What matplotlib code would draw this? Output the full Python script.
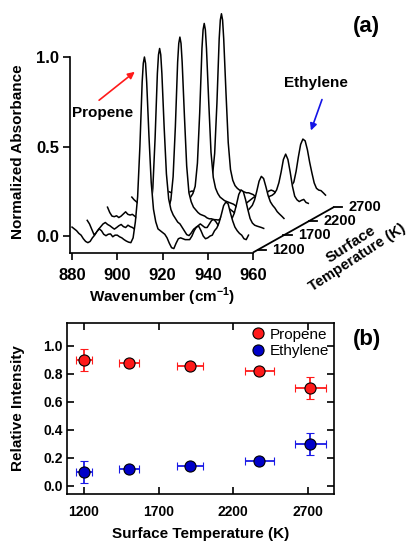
import matplotlib

matplotlib.use("Agg")
import matplotlib.pyplot as plt
from matplotlib.lines import Line2D
import numpy as np

plt.rcParams["font.family"] = ["Liberation Sans", "DejaVu Sans"]
plt.rcParams["font.weight"] = "bold"
plt.rcParams["axes.labelweight"] = "bold"
plt.rcParams["mathtext.fontset"] = "custom"
plt.rcParams["mathtext.rm"] = "Liberation Sans:bold"
plt.rcParams["mathtext.bf"] = "Liberation Sans:bold"

# ---- (a) normalized spectra, one per surface temperature ----
# 1 cm-1 grid, with two extra samples at the top of the propene band
wavenumber = np.concatenate([np.arange(880, 912), [911.5, 912, 912.5],
                             np.arange(913, 959)])
spec_temps = [1200, 1500, 1900, 2380, 2720]

spec_1200 = [
    0.05, 0.04, 0.03, 0.015, 0.005, -0.015, -0.03, -0.037, -0.03, -0.01,  # 880-889
    0.005, 0.025, 0.04, 0.03, 0.01, 0.002, 0.01, 0.012, -0.004, 0.005,    # 890-899
    0.005, -0.004, -0.01, -0.02, -0.028, -0.034, -0.037, -0.01, 0.08, 0.22,  # 900-909
    0.50, 0.86, 0.965, 1.00, 0.965, 0.86, 0.56, 0.30, 0.15, 0.08, 0.04, 0.03,  # 910-919
    0.02, 0.01, -0.01, -0.04, -0.065, -0.07, -0.04, -0.015, -0.01, -0.015,  # 920-929
    -0.02, -0.02, -0.02, 0.00, 0.03, 0.05, 0.055, 0.03, 0.00, -0.015,     # 930-939
    -0.01, 0.00, 0.005, 0.03, 0.045, 0.075, 0.12, 0.17, 0.19, 0.18,       # 940-949
    0.13, 0.085, 0.05, 0.03, 0.015, 0.005, -0.015, -0.02, 0.005,          # 950-958
]
spec_1500 = [
    0.04, 0.02, -0.01, -0.04, -0.03, -0.01, 0.005, 0.02, 0.028, 0.017,
    0.01, 0.00, -0.009, 0.00, 0.01, 0.017, 0.005, 0.00, 0.013, 0.005,
    0.00, -0.01, -0.005, 0.00, 0.005, 0.01, 0.02, 0.04, 0.09, 0.22,
    0.50, 0.86, 0.965, 1.00, 0.965, 0.86, 0.56, 0.30, 0.16, 0.10, 0.07, 0.05,
    0.03, 0.02, 0.00, -0.02, -0.04, -0.045, -0.03, -0.01, 0.00, 0.01,
    0.02, 0.01, 0.00, 0.00, 0.02, 0.04, 0.045, 0.03, 0.01, 0.00,
    -0.01, 0.00, 0.01, 0.03, 0.05, 0.08, 0.13, 0.185, 0.21, 0.20,
    0.155, 0.10, 0.05, 0.025, 0.013, 0.008, 0.004, 0.00, -0.005,
]
spec_1900 = [
    0.05, 0.02, 0.00, -0.003, 0.002, -0.008, 0.00, 0.012, 0.024, 0.01,
    0.006, 0.01, 0.00, -0.01, 0.00, 0.01, 0.00, -0.01, 0.00, 0.01,
    0.005, -0.005, 0.00, 0.01, 0.01, 0.02, 0.03, 0.05, 0.09, 0.22,
    0.50, 0.86, 0.965, 1.00, 0.965, 0.86, 0.56, 0.28, 0.13, 0.08, 0.05, 0.035,
    0.02, 0.01, 0.005, 0.00, -0.01, -0.015, -0.015, -0.02, -0.02, -0.022,
    -0.015, 0.00, 0.02, 0.035, 0.04, 0.03, 0.02, 0.01, 0.00, 0.00,
    0.01, 0.02, 0.03, 0.045, 0.06, 0.09, 0.14, 0.195, 0.222, 0.21,
    0.165, 0.115, 0.08, 0.06, 0.045, 0.025, 0.012, 0.00, -0.013,
]
spec_2380 = [
    0.03, 0.015, 0.004, -0.005, 0.005, 0.015, 0.01, 0.00, -0.01, 0.00,
    0.01, 0.015, 0.005, -0.005, 0.00, 0.01, 0.005, -0.005, 0.00, 0.01,
    0.00, -0.01, -0.005, 0.005, 0.01, 0.02, 0.03, 0.05, 0.09, 0.22,
    0.50, 0.86, 0.965, 1.00, 0.965, 0.86, 0.56, 0.28, 0.14, 0.08, 0.05, 0.03,
    0.02, 0.01, 0.005, 0.00, -0.005, -0.01, -0.02, -0.03, -0.03, -0.02,
    -0.01, 0.00, 0.01, 0.02, 0.03, 0.03, 0.02, 0.01, 0.01, 0.015,
    0.025, 0.035, 0.04, 0.05, 0.07, 0.11, 0.17, 0.24, 0.27, 0.24,
    0.17, 0.09, 0.035, 0.015, 0.005, 0.012, 0.017, 0.00, -0.005,
]
spec_2720 = [
    0.02, 0.01, 0.00, 0.005, 0.01, 0.00, -0.005, 0.00, 0.01, 0.005,
    0.00, -0.005, 0.00, 0.01, 0.01, 0.00, -0.005, 0.00, 0.005, 0.01,
    0.005, 0.00, 0.00, 0.005, 0.01, 0.02, 0.03, 0.05, 0.09, 0.22,
    0.50, 0.86, 0.965, 1.00, 0.965, 0.86, 0.56, 0.28, 0.13, 0.07, 0.04, 0.025,
    0.015, 0.01, 0.005, 0.00, 0.00, -0.005, -0.01, -0.02, -0.03, -0.035,
    -0.03, -0.015, 0.00, 0.01, 0.015, 0.01, 0.00, -0.005, 0.00, 0.01,
    0.02, 0.03, 0.035, 0.04, 0.06, 0.12, 0.20, 0.27, 0.30, 0.29,
    0.24, 0.17, 0.11, 0.055, 0.025, 0.015, 0.012, 0.00, -0.013,
]
spectra = [spec_1200, spec_1500, spec_1900, spec_2380, spec_2720]
depth_ticks = [1200, 1700, 2200, 2700]

# ---- (b) relative intensities vs surface temperature ----
surf_temp = [1200, 1500, 1910, 2375, 2715]
temp_err = [55, 65, 85, 95, 105]
propene = [0.90, 0.88, 0.86, 0.82, 0.70]
propene_err = [0.08, 0.02, 0.02, 0.03, 0.08]
ethylene = [0.10, 0.12, 0.14, 0.18, 0.30]
ethylene_err = [0.08, 0.02, 0.02, 0.03, 0.08]

RED = "#ff1a1a"
BLUE = "#0000c8"

fig = plt.figure(figsize=(4.11, 5.42), dpi=100)

# ---------------- panel (a): waterfall ----------------
ax1 = fig.add_axes([0.1703, 0.5341, 0.4453, 0.3607])
ymin = -0.092
ax1.set_xlim(879.1, 960)
ax1.set_ylim(ymin, 1.0)

kx = 0.0224     # cm-1 shift per K along the depth axis
ky = 0.000159   # absorbance shift per K along the depth axis
z0 = 1100       # depth axis origin (K)

# back to front, white fill hides the lines behind
for i in reversed(range(len(spectra))):
    dx = kx * (spec_temps[i] - spec_temps[0])
    dy = ky * (spec_temps[i] - spec_temps[0])
    xd = wavenumber + dx
    yd = np.asarray(spectra[i]) + dy
    z = 3 + (len(spectra) - i) * 0.2
    ax1.fill_between(xd, yd, ymin + dy, color="white", lw=0, zorder=z,
                     clip_on=False)
    ax1.plot(xd, yd, color="black", lw=1.1, zorder=z + 0.1, clip_on=False)

# depth (temperature) axis
xa = [960, 960 + kx * (2700 - z0)]
ya = [ymin, ymin + ky * (2700 - z0)]
ax1.plot(xa, ya, color="black", lw=1.3, zorder=10, clip_on=False,
         solid_capstyle="butt")
for t in depth_ticks:
    x0 = 960 + kx * (t - z0)
    y0 = ymin + ky * (t - z0)
    ax1.plot([x0, x0 + 3.6], [y0, y0], color="black", lw=1.3, zorder=10,
             clip_on=False)
    ax1.text(x0 + 6.3, y0, str(t), fontsize=10.5, ha="left", va="center")

for s in ["top", "right"]:
    ax1.spines[s].set_visible(False)
for s in ["left", "bottom"]:
    ax1.spines[s].set_linewidth(1.2)
    ax1.spines[s].set_zorder(10)
ax1.set_xticks([880, 900, 920, 940, 960])
ax1.set_yticks([0.0, 0.5, 1.0])
ax1.set_yticklabels(["0.0", "0.5", "1.0"])
ax1.tick_params(direction="out", length=5, width=1.2, labelsize=12)
ax1.tick_params(axis="x", pad=6)
ax1.tick_params(axis="y", pad=3)
ax1.patch.set_visible(False)

ax1.annotate("", xy=(908.7, 0.927), xytext=(891.0, 0.749),
             arrowprops=dict(arrowstyle="-|>", color=RED, lw=1.2,
                             mutation_scale=10), annotation_clip=False)
ax1.text(893.7, 0.687, "Propene", fontsize=11, ha="center", va="center")
ax1.annotate("", xy=(985.2, 0.575), xytext=(990.9, 0.777),
             arrowprops=dict(arrowstyle="-|>", color="#1414e6", lw=1.2,
                             mutation_scale=10), annotation_clip=False)
ax1.text(987.8, 0.855, "Ethylene", fontsize=11, ha="center", va="center",
         clip_on=False)

fig.text(0.0438, 0.7196, "Normalized Absorbance", rotation=90, fontsize=11,
         ha="center", va="center")
fig.text(0.394, 0.452, r"Wavenumber (cm$^{-1}$)", fontsize=11,
         ha="center", va="center")
fig.text(351 / 411, 1 - 244 / 542, "Surface", rotation=33, fontsize=11,
         ha="center", va="center", rotation_mode="anchor")
fig.text(357 / 411, 1 - 258 / 542, "Temperature (K)", rotation=33,
         fontsize=10.5, ha="center", va="center", rotation_mode="anchor")
fig.text(0.8905, 0.9502, "(a)", fontsize=16, ha="center", va="center")

# ---------------- panel (b): relative intensity ----------------
ax2 = fig.add_axes([0.163, 0.0886, 0.6496, 0.3155])
ax2.errorbar(surf_temp, propene, xerr=temp_err, yerr=propene_err, fmt="o",
             ms=8, mfc=RED, mec="black", mew=0.8, ecolor=RED,
             elinewidth=1.3, capsize=3, capthick=1.3)
ax2.errorbar(surf_temp, ethylene, xerr=temp_err, yerr=ethylene_err, fmt="o",
             ms=8, mfc=BLUE, mec="black", mew=0.8, ecolor="#1a1ae6",
             elinewidth=1.3, capsize=3, capthick=1.3)
ax2.set_xlim(1086, 2874)
ax2.set_ylim(-0.057, 1.164)
ax2.set_xticks([1200, 1700, 2200, 2700])
ax2.set_yticks([0.0, 0.2, 0.4, 0.6, 0.8, 1.0])
ax2.set_yticklabels(["0.0", "0.2", "0.4", "0.6", "0.8", "1.0"])
ax2.tick_params(direction="in", length=5, width=1.2, labelsize=10,
                top=True, right=True)
ax2.tick_params(axis="x", pad=8)
ax2.tick_params(axis="y", pad=3)
for s in ax2.spines.values():
    s.set_linewidth(1.2)

handles = [
    Line2D([], [], ls="none", marker="o", ms=8, mfc=RED, mec="black", mew=0.8),
    Line2D([], [], ls="none", marker="o", ms=8, mfc=BLUE, mec="black", mew=0.8),
]
ax2.legend(handles, ["Propene", "Ethylene"], loc="upper right",
           bbox_to_anchor=(1.0, 1.0), frameon=False, handlelength=0.8,
           handletextpad=0.4, labelspacing=0.15, borderaxespad=0.1,
           borderpad=0.2, prop={"size": 11, "weight": "normal"})

fig.text(0.0438, 0.2472, "Relative Intensity", rotation=90, fontsize=11,
         ha="center", va="center")
fig.text(0.489, 0.0148, "Surface Temperature (K)", fontsize=11,
         ha="center", va="center")
fig.text(0.893, 0.3727, "(b)", fontsize=16, ha="center", va="center")

fig.savefig("out.png", dpi=100)
plt.close(fig)
